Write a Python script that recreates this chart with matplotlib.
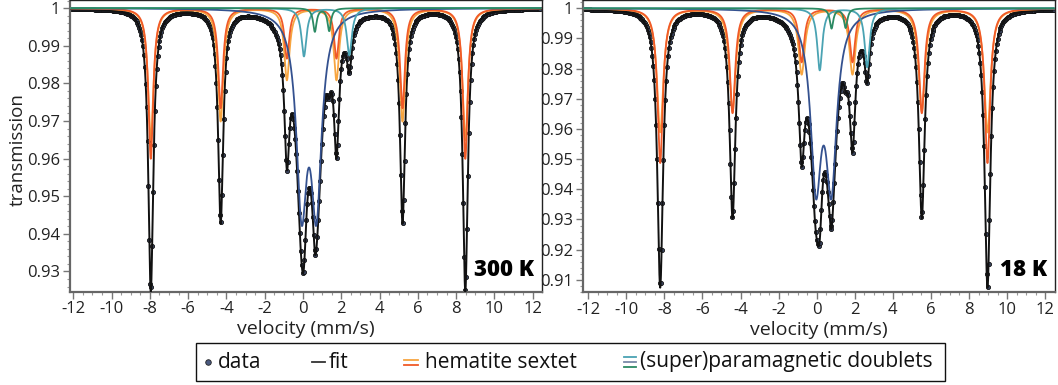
import numpy as np
import matplotlib
matplotlib.use("Agg")
import matplotlib.pyplot as plt
from matplotlib.lines import Line2D
from matplotlib.patches import Rectangle
from matplotlib.ticker import MultipleLocator, FuncFormatter

plt.rcParams['font.family'] = ['Open Sans', 'DejaVu Sans']

# ---------------- data ----------------
n_channels = 512
v_range_300 = (-12.1, 12.4)
v_range_18 = (-12.2, 12.45)

# 300 K : hematite sextets (line positions mm/s, depths, HWHM)
hem_pos_300 = [-7.95, -4.30, -0.84, 1.75, 5.20, 8.48]
hem_red_depth_300 = [0.040, 0.0265, 0.0133, 0.0133, 0.0265, 0.040]
hem_org_depth_300 = [0.035, 0.030, 0.019, 0.019, 0.030, 0.035]
hem_red_hw_300 = 0.15
hem_org_hw_300 = 0.17
# 300 K : doublets
navy_pos_300 = [-0.07, 0.70]
navy_depth_300 = [0.050, 0.050]
navy_hw_300 = 0.33
teal_pos_300 = [0.05, 2.42]
teal_depth_300 = [0.0128, 0.0125]
teal_hw_300 = 0.16
green_pos_300 = [0.62, 1.37]
green_depth_300 = [0.0062, 0.0060]
green_hw_300 = 0.11

# 18 K : hematite sextets
hem_pos_18 = [-8.22, -4.42, -0.79, 1.88, 5.52, 8.97]
hem_red_depth_18 = [0.0512, 0.0346, 0.0177, 0.0177, 0.0346, 0.0512]
hem_org_depth_18 = [0.041, 0.034, 0.0217, 0.0217, 0.034, 0.041]
hem_red_hw_18 = 0.17
hem_org_hw_18 = 0.20
# 18 K : doublets
navy_pos_18 = [-0.04, 0.77]
navy_depth_18 = [0.0550, 0.0550]
navy_hw_18 = 0.34
teal_pos_18 = [0.16, 2.65]
teal_depth_18 = [0.0205, 0.0195]
teal_hw_18 = 0.16
green_pos_18 = [0.78, 1.52]
green_depth_18 = [0.0066, 0.0064]
green_hw_18 = 0.11

y_ticks_300 = [0.93, 0.94, 0.95, 0.96, 0.97, 0.98, 0.99, 1.0]
y_ticks_18 = [0.91, 0.92, 0.93, 0.94, 0.95, 0.96, 0.97, 0.98, 0.99, 1.0]
x_ticks = [-12, -10, -8, -6, -4, -2, 0, 2, 4, 6, 8, 10, 12]

legend_labels = ['data', 'fit', 'hematite sextet', '(super)paramagnetic doublets']

# ---------------- styles ----------------
C_RED = '#f05a28'
C_ORG = '#f7a540'
C_NAVY = '#34518f'
C_TEAL = '#4aa3b3'
C_GREEN = '#2b8a63'
C_FIT = '#111111'


def absorption(v, pos, depth, hw):
    out = np.zeros_like(v)
    for c, d in zip(pos, depth):
        out += d * hw**2 / ((v - c)**2 + hw**2)
    return out


fig = plt.figure(figsize=(10.58, 3.85), dpi=100)
W, H = 1058.0, 385.0


def px_axes(x0, x1, ytop, ybot):
    return fig.add_axes([x0 / W, 1 - ybot / H, (x1 - x0) / W, (ybot - ytop) / H])


axL = px_axes(70, 541.5, 0.3, 291.7)
axR = px_axes(582.7, 1054.5, 0.3, 292.3)

panels = [
    (axL, v_range_300, hem_pos_300, hem_red_depth_300, hem_org_depth_300, hem_red_hw_300, hem_org_hw_300,
     navy_pos_300, navy_depth_300, navy_hw_300, teal_pos_300, teal_depth_300, teal_hw_300,
     green_pos_300, green_depth_300, green_hw_300, (-12.17, 12.46), (0.92463, 1.00207), y_ticks_300, '300 K'),
    (axR, v_range_18, hem_pos_18, hem_red_depth_18, hem_org_depth_18, hem_red_hw_18, hem_org_hw_18,
     navy_pos_18, navy_depth_18, navy_hw_18, teal_pos_18, teal_depth_18, teal_hw_18,
     green_pos_18, green_depth_18, green_hw_18, (-12.29, 12.49), (0.90586, 1.00265), y_ticks_18, '18 K'),
]

for (ax, vr, hp, hrd, hod, hrw, how, npos, nd, nw, tp, td, tw, gp, gd, gw, xl, yl, yt, label) in panels:
    v = np.linspace(vr[0], vr[1], n_channels)
    vf = np.linspace(vr[0], vr[1], 4000)
    comps = {
        'red': (hp, hrd, hrw, C_RED),
        'org': (hp, hod, how, C_ORG),
        'navy': (npos, nd, nw, C_NAVY),
        'teal': (tp, td, tw, C_TEAL),
        'green': (gp, gd, gw, C_GREEN),
    }
    total_pts = np.zeros_like(v)
    total_fine = np.zeros_like(vf)
    for key, (p, d, w, c) in comps.items():
        total_pts += absorption(v, p, d, w)
        total_fine += absorption(vf, p, d, w)
    ax.plot(v, 1 - total_pts, 'o', ms=3.0, mfc='#3c4660', mec='#111111', mew=0.6, zorder=2)
    ax.plot(vf, 1 - total_fine, '-', color=C_FIT, lw=1.4, zorder=3)
    for key in ['org', 'red', 'navy', 'teal', 'green']:
        p, d, w, c = comps[key]
        ax.plot(vf, 1 - absorption(vf, p, d, w), '-', color=c, lw=1.3, zorder=4)

    ax.set_xlim(*xl)
    ax.set_ylim(*yl)
    ax.set_xticks(x_ticks)
    ax.set_yticks(yt)
    ax.xaxis.set_minor_locator(MultipleLocator(0.5))
    ax.yaxis.set_minor_locator(MultipleLocator(0.002))
    ax.yaxis.set_major_formatter(FuncFormatter(lambda y, p: ('%g' % round(y, 3))))
    ax.xaxis.set_major_formatter(FuncFormatter(lambda x, p: ('%d' % x)))
    ax.tick_params(which='major', direction='out', length=5, width=1, color='#777777',
                   labelsize=12, labelcolor='#222222', pad=2)
    ax.tick_params(which='minor', direction='out', length=2.5, width=0.8, color='#999999')
    ax.tick_params(axis='x', which='both', top=False)
    ax.tick_params(axis='y', which='both', right=False)
    for s in ['left', 'bottom']:
        ax.spines[s].set_color('#666666')
        ax.spines[s].set_linewidth(1.6)
    for s in ['top', 'right']:
        ax.spines[s].set_color('#222222')
        ax.spines[s].set_linewidth(1.0)
    ax.set_xlabel('velocity (mm/s)', fontsize=14, color='#222222', labelpad=2)
    ax.text(0.985, 0.035, label, transform=ax.transAxes, ha='right', va='bottom',
            fontsize=16, fontweight='heavy', color='black', zorder=10,
            bbox=dict(facecolor='white', edgecolor='none', pad=1.0))

fig.text(18 / W, 1 - 150 / H, 'transmission', rotation=90, ha='center', va='center',
         fontsize=13.5, color='#222222')

# ---------------- legend (manual, in figure pixels) ----------------
def fx(x):
    return x / W


def fy(y):
    return 1 - y / H


fig.add_artist(Rectangle((fx(196), fy(381)), (945 - 196) / W, (381 - 343) / H,
                         transform=fig.transFigure, fill=False, edgecolor='#111111', lw=1.0))
yc = 362
LFS = 15
fig.add_artist(Line2D([fx(207.5)], [fy(yc)], marker='o', ms=4, mfc='#4a5a80', mec='#222222',
                      mew=0.6, transform=fig.transFigure))
fig.text(fx(218), fy(yc), legend_labels[0], fontsize=LFS, va='center', ha='left', color='#111111')
fig.add_artist(Line2D([fx(312), fx(325)], [fy(yc), fy(yc)], color='#333333', lw=1.3,
                      transform=fig.transFigure))
fig.text(fx(329), fy(yc), legend_labels[1], fontsize=LFS, va='center', ha='left', color='#111111')
for dy, c in [(-2.5, C_ORG), (2.5, C_RED)]:
    fig.add_artist(Line2D([fx(404), fx(418)], [fy(yc + dy), fy(yc + dy)], color=c, lw=1.3,
                          transform=fig.transFigure))
fig.text(fx(425), fy(yc), legend_labels[2], fontsize=LFS, va='center', ha='left', color='#111111')
for dy, c in [(-5, C_TEAL), (0, '#7a8aa8'), (5, C_GREEN)]:
    fig.add_artist(Line2D([fx(624), fx(636)], [fy(yc + dy), fy(yc + dy)], color=c, lw=1.3,
                          transform=fig.transFigure))
fig.text(fx(640), fy(yc), legend_labels[3], fontsize=LFS, va='center', ha='left',
         color='#111111')

fig.savefig('out.png', dpi=100)
